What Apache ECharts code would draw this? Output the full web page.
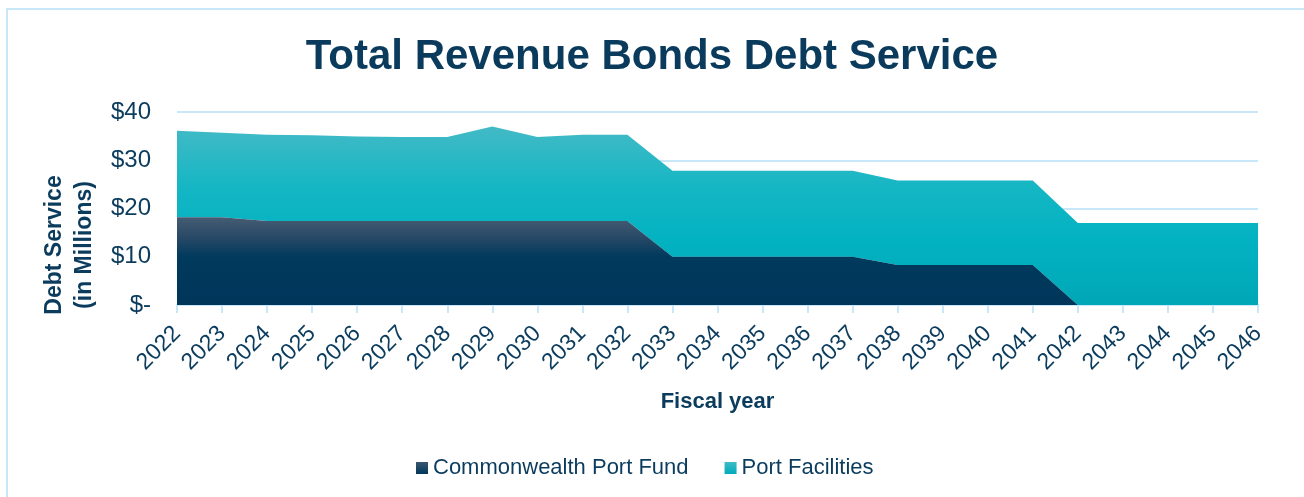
<!DOCTYPE html>
<html>
<head>
<meta charset="utf-8">
<title>Total Revenue Bonds Debt Service</title>
<script src="https://cdn.jsdelivr.net/npm/echarts@6/dist/echarts.min.js"></script>
<style>
  html, body { margin: 0; padding: 0; background: #ffffff; }
  #chart { width: 1304px; height: 497px; }
</style>
</head>
<body>
<div id="chart"></div>
<script>
// Fiscal years on the category axis
const years = ['2022','2023','2024','2025','2026','2027','2028','2029','2030','2031','2032',
  '2033','2034','2035','2036','2037','2038','2039','2040','2041','2042','2043','2044','2045','2046'];

// Debt service per year, $ millions
const commonwealthPortFund = [18.2, 18.2, 17.4, 17.4, 17.4, 17.4, 17.4, 17.4, 17.4, 17.4, 17.4,
  10.0, 10.0, 10.0, 10.0, 10.0, 8.3, 8.3, 8.3, 8.3, 0, 0, 0, 0, 0];
const portFacilities = [17.9, 17.5, 17.9, 17.8, 17.5, 17.4, 17.4, 19.6, 17.4, 17.9, 17.9,
  17.8, 17.8, 17.8, 17.8, 17.8, 17.5, 17.5, 17.5, 17.5, 17.0, 17.0, 17.0, 17.0, 17.0];

// Value-axis ticks
const yTicks = { min: 0, max: 40, interval: 10 };

const FONT = '"Liberation Sans", Arial, sans-serif';
const TEXT = '#0b3c5d';
const RULE = '#c8e8fa';

const navyFill = new echarts.graphic.LinearGradient(0, 0, 0, 1, [
  { offset: 0, color: '#465c73' },
  { offset: 0.22, color: '#2a4a67' },
  { offset: 0.45, color: '#003a5d' },
  { offset: 1, color: '#00355a' }
]);
const tealFill = new echarts.graphic.LinearGradient(0, 0, 0, 1, [
  { offset: 0, color: '#42bac6' },
  { offset: 0.35, color: '#14b6c4' },
  { offset: 0.65, color: '#02b2c1' },
  { offset: 1, color: '#00a7b6' }
]);
const navyIcon = new echarts.graphic.LinearGradient(0, 0, 0, 1, [
  { offset: 0, color: '#3c5670' }, { offset: 1, color: '#00375a' }
]);
const tealIcon = new echarts.graphic.LinearGradient(0, 0, 0, 1, [
  { offset: 0, color: '#3fbac6' }, { offset: 1, color: '#00acbb' }
]);

const chart = echarts.init(document.getElementById('chart'), null, { renderer: 'canvas' });

chart.setOption({
  backgroundColor: '#ffffff',
  animation: false,
  textStyle: { fontFamily: FONT, color: TEXT },
  title: {
    text: 'Total Revenue Bonds Debt Service',
    left: 'center',
    top: 31,
    textStyle: { fontFamily: FONT, fontSize: 42, fontWeight: 'bold', color: '#0a3b5c' }
  },
  legend: {
    bottom: 13,
    left: 411,
    icon: 'rect',
    itemWidth: 12,
    itemHeight: 12,
    itemGap: 36,
    textStyle: { fontFamily: FONT, fontSize: 22, color: TEXT },
    data: [
      { name: 'Commonwealth Port Fund', itemStyle: { color: navyIcon } },
      { name: 'Port Facilities', itemStyle: { color: tealIcon } }
    ]
  },
  graphic: [
    {
      type: 'rect',
      silent: true,
      shape: { x: 7, y: 9, width: 1400, height: 600 },
      style: { fill: 'none', stroke: RULE, lineWidth: 2 }
    },
    {
      type: 'text',
      silent: true,
      x: 70,
      y: 245,
      rotation: Math.PI / 2,
      style: {
        text: 'Debt Service\n(in Millions)',
        fontFamily: FONT,
        fontSize: 23,
        fontWeight: 'bold',
        fill: TEXT,
        align: 'center',
        verticalAlign: 'middle',
        lineHeight: 30
      }
    }
  ],
  grid: { left: 177, right: 46, top: 112, bottom: 192 },
  xAxis: {
    type: 'category',
    data: years,
    boundaryGap: false,
    name: 'Fiscal year',
    nameLocation: 'middle',
    nameGap: 86,
    nameTextStyle: { fontFamily: FONT, fontSize: 22, fontWeight: 'bold', color: TEXT },
    axisLine: { lineStyle: { color: RULE, width: 2 } },
    axisTick: { show: true, length: 8, lineStyle: { color: RULE, width: 2 } },
    axisLabel: { rotate: 45, margin: 25, fontFamily: FONT, fontSize: 23, color: TEXT },
    splitLine: { show: false }
  },
  yAxis: {
    type: 'value',
    min: yTicks.min,
    max: yTicks.max,
    interval: yTicks.interval,
    axisLine: { show: false },
    axisTick: { show: false },
    axisLabel: {
      margin: 26,
      fontFamily: FONT,
      fontSize: 24,
      color: TEXT,
      formatter: v => (v === 0 ? '$-' : '$' + v)
    },
    splitLine: { lineStyle: { color: RULE, width: 2 } }
  },
  series: [
    {
      name: 'Commonwealth Port Fund',
      type: 'line',
      stack: 'debt',
      data: commonwealthPortFund,
      showSymbol: false,
      symbol: 'none',
      lineStyle: { width: 0 },
      itemStyle: { color: '#00375a' },
      areaStyle: { color: navyFill, opacity: 1 },
      z: 3
    },
    {
      name: 'Port Facilities',
      type: 'line',
      stack: 'debt',
      data: portFacilities,
      showSymbol: false,
      symbol: 'none',
      lineStyle: { width: 0 },
      itemStyle: { color: '#00b0bf' },
      areaStyle: { color: tealFill, opacity: 1 },
      z: 2
    }
  ]
});
</script>
</body>
</html>
